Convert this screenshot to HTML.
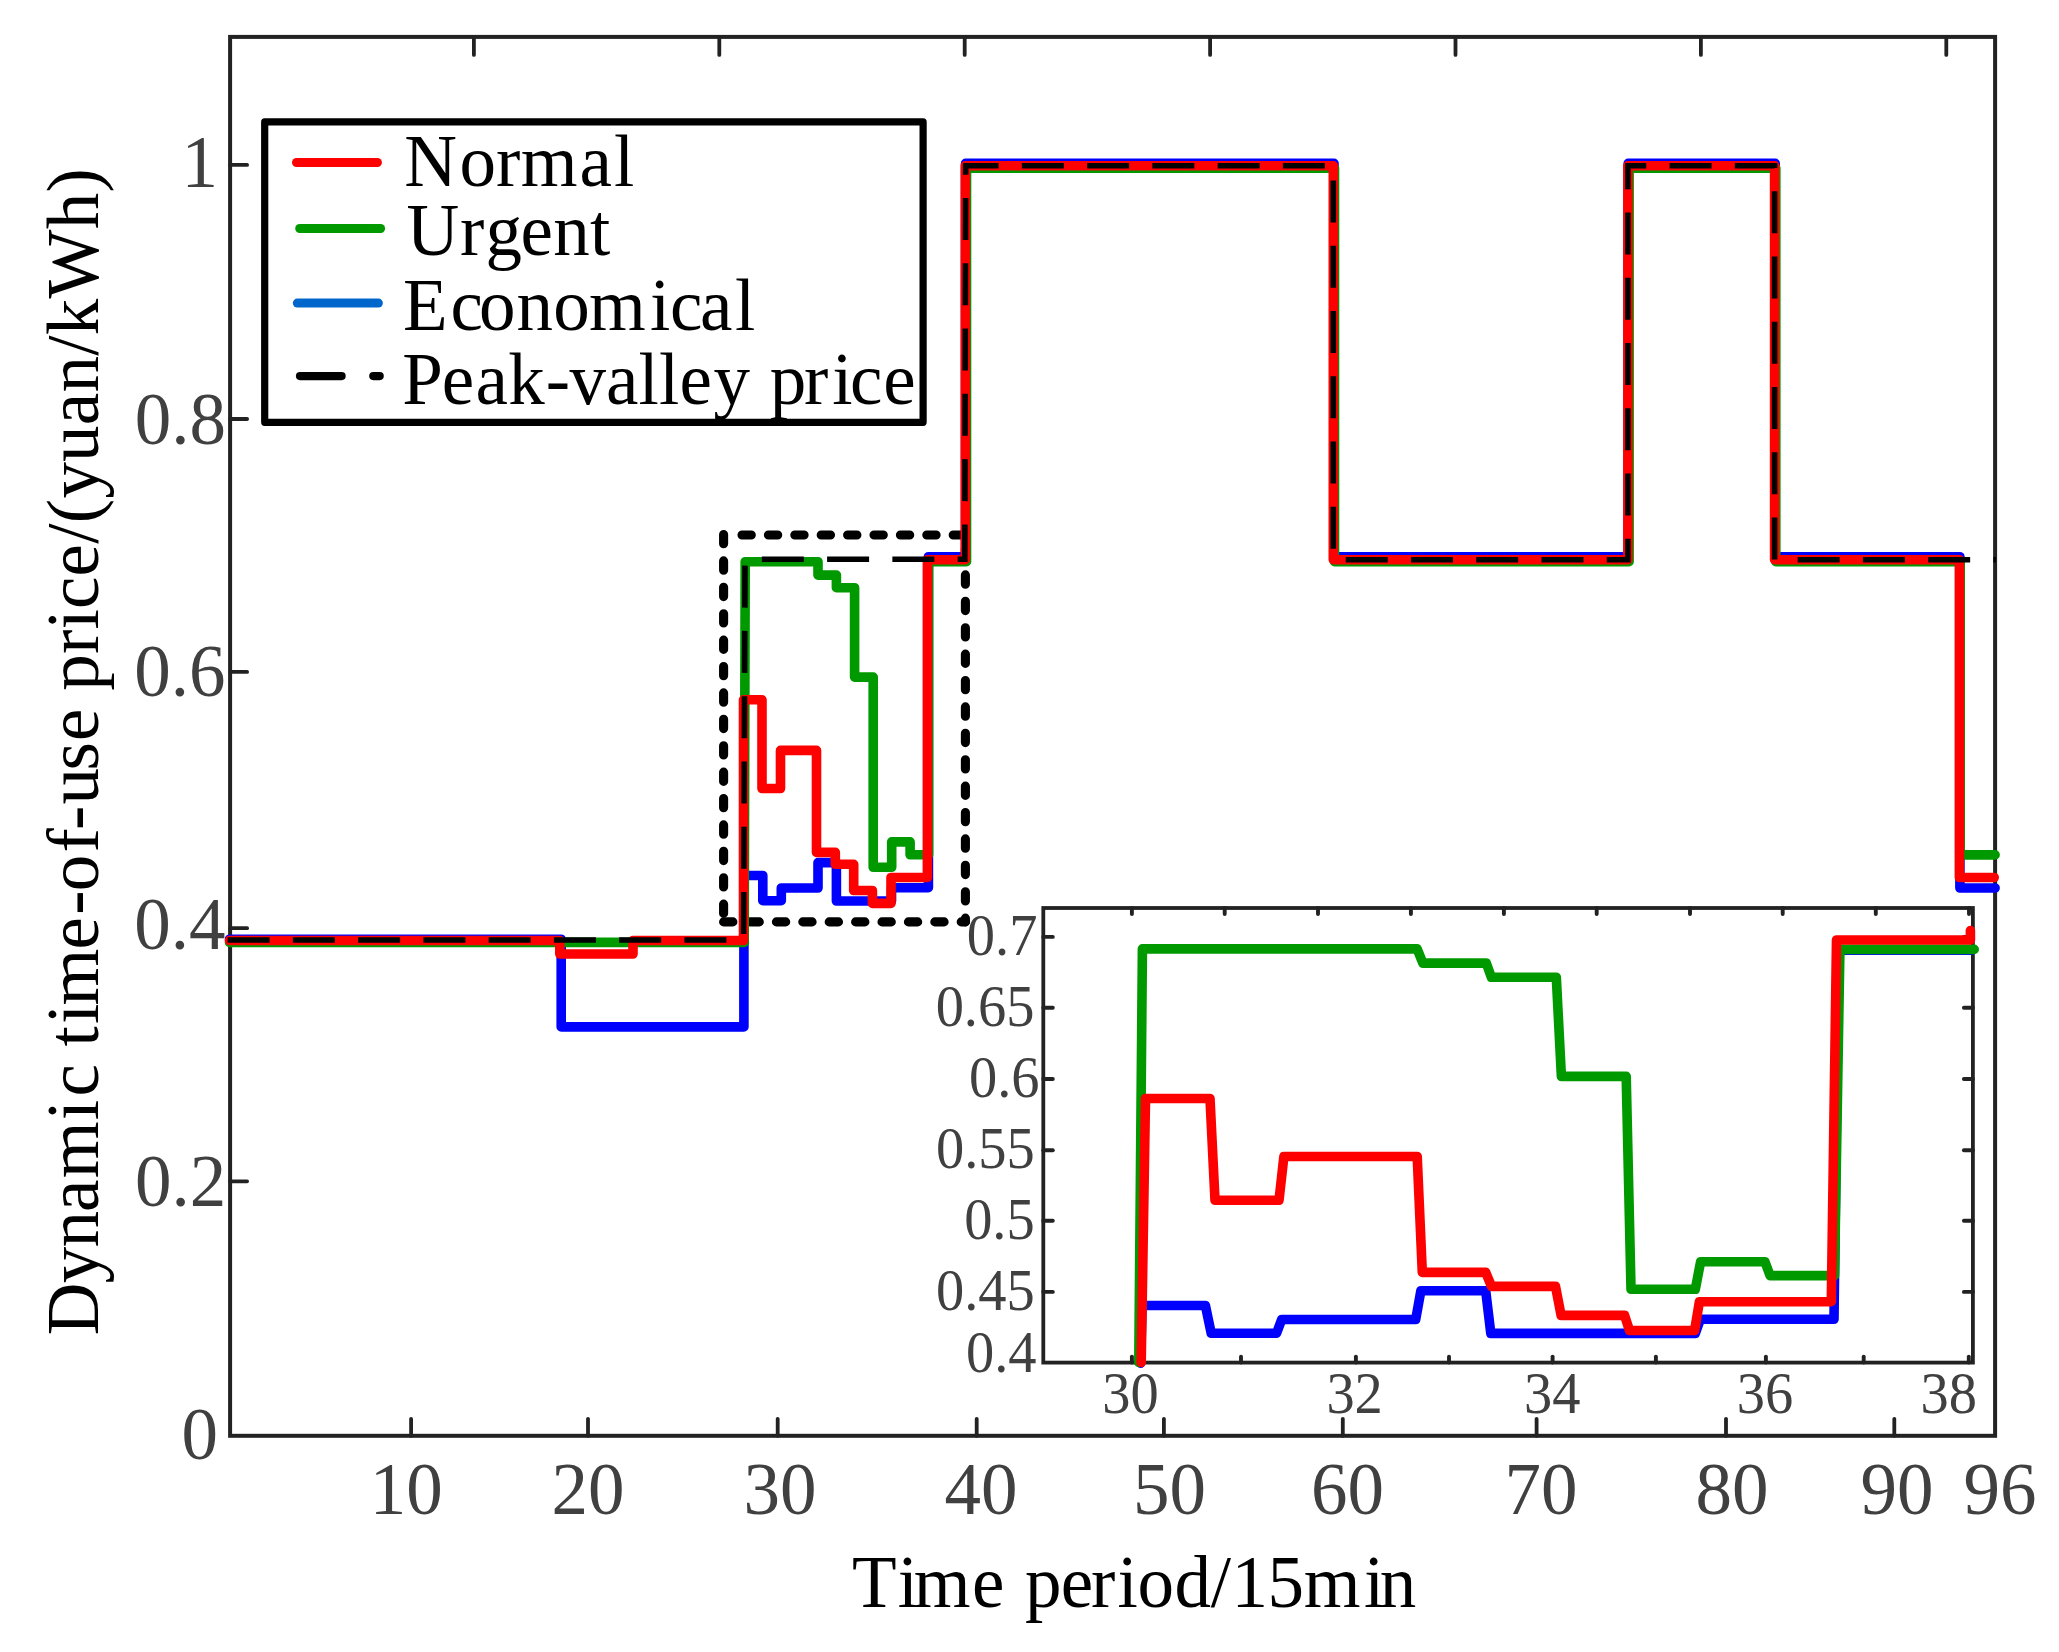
<!DOCTYPE html>
<html><head><meta charset="utf-8"><title>Dynamic time-of-use price</title>
<style>
html,body{margin:0;padding:0;background:#fff;}
body{width:2059px;height:1652px;overflow:hidden;}
svg{display:block;}
text{font-family:"Liberation Serif",serif;}
.tk{fill:#404040;font-size:73px;}
.ti{fill:#404040;font-size:58.5px;}
.lb{fill:#000;font-size:73px;}
.c{fill:none;stroke-width:9.6;stroke-linejoin:round;stroke-linecap:round;}
</style></head><body>
<svg width="2059" height="1652" viewBox="0 0 2059 1652">
<rect x="0" y="0" width="2059" height="1652" fill="#ffffff"/>
<g stroke="#222222" stroke-width="4" fill="none" stroke-linecap="round">
<rect x="230.1" y="36.9" width="1765.0" height="1398.9" stroke-linejoin="miter"/>
<line x1="411.1" y1="1435.8" x2="411.1" y2="1418.8" stroke-width="3.8"/>
<line x1="588" y1="1435.8" x2="588" y2="1418.8" stroke-width="3.8"/>
<line x1="777.7" y1="1435.8" x2="777.7" y2="1418.8" stroke-width="3.8"/>
<line x1="976.7" y1="1435.8" x2="976.7" y2="1418.8" stroke-width="3.8"/>
<line x1="1163.9" y1="1435.8" x2="1163.9" y2="1418.8" stroke-width="3.8"/>
<line x1="1342.8" y1="1435.8" x2="1342.8" y2="1418.8" stroke-width="3.8"/>
<line x1="1536.6" y1="1435.8" x2="1536.6" y2="1418.8" stroke-width="3.8"/>
<line x1="1726" y1="1435.8" x2="1726" y2="1418.8" stroke-width="3.8"/>
<line x1="1894.3" y1="1435.8" x2="1894.3" y2="1418.8" stroke-width="3.8"/>
<line x1="473.9" y1="36.9" x2="473.9" y2="54.9" stroke-width="3.8"/>
<line x1="719.3" y1="36.9" x2="719.3" y2="54.9" stroke-width="3.8"/>
<line x1="964.7" y1="36.9" x2="964.7" y2="54.9" stroke-width="3.8"/>
<line x1="1210.1" y1="36.9" x2="1210.1" y2="54.9" stroke-width="3.8"/>
<line x1="1455.5" y1="36.9" x2="1455.5" y2="54.9" stroke-width="3.8"/>
<line x1="1700.9" y1="36.9" x2="1700.9" y2="54.9" stroke-width="3.8"/>
<line x1="1946.3" y1="36.9" x2="1946.3" y2="54.9" stroke-width="3.8"/>
<line x1="230.1" y1="164.9" x2="247.1" y2="164.9" stroke-width="3.8"/>
<line x1="230.1" y1="419.0" x2="247.1" y2="419.0" stroke-width="3.8"/>
<line x1="230.1" y1="671.9" x2="247.1" y2="671.9" stroke-width="3.8"/>
<line x1="230.1" y1="928.2" x2="247.1" y2="928.2" stroke-width="3.8"/>
<line x1="230.1" y1="1181.3" x2="247.1" y2="1181.3" stroke-width="3.8"/>
</g>
<g stroke="#000" stroke-width="9.1" fill="none" stroke-linecap="round" stroke-dasharray="9.3 17.1">
<path d="M723.6,534.5 V921.9"/>
<path d="M723.6,921.9 H965.4"/>
<path d="M742,535 H965.4"/>
<path d="M965.4,548.5 V921.9"/>
</g>
<path class="c" stroke="#0000ff" d="M229.5,939.2 H561.2 V1026.9 H743.9 V875.5 H762.8 V900.7 H781.3 V888 H818 V862.6 H836.4 V901 H891.5 V887.7 H928.4 V556.7 H965.6 V163.4 H1334 V556.7 H1628.2 V163.4 H1775.2 V556.7 H1959.9 V888 H1995.1"/>
<path class="c" stroke="#009900" d="M229.5,942.4 H744.2 L745.2,561.7 H818 V575.1 H836.4 V587.7 H854.6 V677.1 H873.2 V867.3 H891.7 V841.9 H910.1 V854.8 H928.6 V561.7 H966.5 V168.1 H1334.5 V561.7 H1629.1 V168.1 H1775.8 V561.7 H1960.2 V854.9 H1995.1"/>
<path class="c" stroke="#ff0000" d="M229.5,940.5 H559.8 V954 H633 V940.5 H743.5 V699.8 H762 V788.5 H780.5 V750.4 H816.5 V852.4 H835.3 V864.3 H853.7 V890.5 H872.4 V903.4 H891 V877.5 H927.4 V559.7 H965.3 V165.7 H1333.3 V559.7 H1627.9 V165.7 H1774.6 V559.7 H1959.4 V877.5 H1994.2"/>
<path fill="none" stroke="#000" stroke-width="5.6" stroke-dasharray="42 23.26" d="M227.6,940 H743.6 L745,559.2 H964.8 L965.7,165.7 H1333.3 V559.7 H1627.9 V165.7 H1774.6 V559.7 H1996"/>
<text class="tk" x="406.3" y="1514" text-anchor="middle">10</text>
<text class="tk" x="588" y="1514" text-anchor="middle">20</text>
<text class="tk" x="780" y="1514" text-anchor="middle">30</text>
<text class="tk" x="981" y="1514" text-anchor="middle">40</text>
<text class="tk" x="1169.5" y="1514" text-anchor="middle">50</text>
<text class="tk" x="1347.5" y="1514" text-anchor="middle">60</text>
<text class="tk" x="1541" y="1514" text-anchor="middle">70</text>
<text class="tk" x="1732" y="1514" text-anchor="middle">80</text>
<text class="tk" x="1897" y="1514" text-anchor="middle">90</text>
<text class="tk" x="2000" y="1514" text-anchor="middle">96</text>
<text class="tk" x="217.9" y="186.9" text-anchor="end">1</text>
<text class="tk" x="226.1" y="444.3" text-anchor="end">0.8</text>
<text class="tk" x="225.6" y="695.5" text-anchor="end">0.6</text>
<text class="tk" x="225.6" y="948.8" text-anchor="end">0.4</text>
<text class="tk" x="226.2" y="1206.3" text-anchor="end">0.2</text>
<text class="tk" x="218" y="1458.5" text-anchor="end">0</text>
<text class="lb" x="852.1 897.8 913.8 972.0 1003.8 1025.0 1060.8 1091.1 1117.6 1137.6 1174.5 1210.7 1231.4 1267.6 1303.7 1363.9 1379.7" y="1606.9">Time period/15min</text>
<text class="lb" transform="translate(98.0,1336.3) rotate(-90)" x="1.0 53.0 88.7 124.4 158.1 216.1 239.7 269.3 289.8 312.3 330.9 386.9 421.5 445.1 483.8 506.4 531.9 565.7 595.3 627.0 645.5 682.2 706.8 727.3 759.9 792.6 813.1 837.7 874.4 911.1 943.8 980.5 1001.1 1037.8 1107.0 1143.7" y="0">Dynamic time-of-use price/(yuan/kWh)</text>
<rect x="264.7" y="121.9" width="658.4" height="300.4" fill="#fff" stroke="#000" stroke-width="7.2" stroke-linejoin="round"/>
<g fill="none" stroke-linecap="round" stroke-width="9">
<line x1="296.5" y1="162.5" x2="377.4" y2="162.5" stroke="#ff0000"/>
<line x1="299.7" y1="228.5" x2="380.6" y2="228.5" stroke="#009900"/>
<line x1="297.3" y1="303.1" x2="378.4" y2="303.1" stroke="#0066cc"/>
<line x1="300" y1="376.1" x2="341.6" y2="376.1" stroke="#000" stroke-width="8.2"/>
<line x1="373.3" y1="376.1" x2="379.7" y2="376.1" stroke="#000" stroke-width="8.2"/>
</g>
<text class="lb" x="404.2 459.4 496.1 520.8 579.4 614.0" y="186">Normal</text>
<text class="lb" x="406.5 459.9 485.4 520.6 553.3 590.0" y="255">Urgent</text>
<text class="lb" x="403.0 450.5 479.0 516.6 553.3 588.9 650.0 670.0 700.1 735.1" y="330">Economical</text>
<text class="lb" x="402.3 441.8 475.6 508.2 545.7 569.4 606.0 638.6 659.1 679.5 713.4 748.8 769.8 803.9 832.2 850.1 883.2" y="404.3">Peak-valley price</text>
<g stroke="#222222" stroke-width="3.8" fill="none" stroke-linecap="round">
<rect x="1043.3" y="908.0" width="929.6" height="454.6" fill="#fff"/>
<line x1="1131.9" y1="908.0" x2="1131.9" y2="914.0" stroke-width="3.9"/>
<line x1="1224.7" y1="908.0" x2="1224.7" y2="914.0" stroke-width="3.9"/>
<line x1="1318" y1="908.0" x2="1318" y2="914.0" stroke-width="3.9"/>
<line x1="1410.9" y1="908.0" x2="1410.9" y2="914.0" stroke-width="3.9"/>
<line x1="1503.9" y1="908.0" x2="1503.9" y2="914.0" stroke-width="3.9"/>
<line x1="1596.7" y1="908.0" x2="1596.7" y2="914.0" stroke-width="3.9"/>
<line x1="1690" y1="908.0" x2="1690" y2="914.0" stroke-width="3.9"/>
<line x1="1782.7" y1="908.0" x2="1782.7" y2="914.0" stroke-width="3.9"/>
<line x1="1875.8" y1="908.0" x2="1875.8" y2="914.0" stroke-width="3.9"/>
<line x1="1969" y1="908.0" x2="1969" y2="914.0" stroke-width="3.9"/>
<line x1="1131.9" y1="1362.6" x2="1131.9" y2="1356.6" stroke-width="3.9"/>
<line x1="1241" y1="1362.6" x2="1241" y2="1356.6" stroke-width="3.9"/>
<line x1="1355.9" y1="1362.6" x2="1355.9" y2="1356.6" stroke-width="3.9"/>
<line x1="1449" y1="1362.6" x2="1449" y2="1356.6" stroke-width="3.9"/>
<line x1="1552.6" y1="1362.6" x2="1552.6" y2="1356.6" stroke-width="3.9"/>
<line x1="1655.9" y1="1362.6" x2="1655.9" y2="1356.6" stroke-width="3.9"/>
<line x1="1765.9" y1="1362.6" x2="1765.9" y2="1356.6" stroke-width="3.9"/>
<line x1="1863.7" y1="1362.6" x2="1863.7" y2="1356.6" stroke-width="3.9"/>
<line x1="1968.8" y1="1362.6" x2="1968.8" y2="1356.6" stroke-width="3.9"/>
<line x1="1043.3" y1="936.9" x2="1052.8" y2="936.9" stroke-width="3.9"/>
<line x1="1972.9" y1="936.9" x2="1963.9" y2="936.9" stroke-width="3.9"/>
<line x1="1043.3" y1="1007.7" x2="1052.8" y2="1007.7" stroke-width="3.9"/>
<line x1="1972.9" y1="1007.7" x2="1963.9" y2="1007.7" stroke-width="3.9"/>
<line x1="1043.3" y1="1079" x2="1052.8" y2="1079" stroke-width="3.9"/>
<line x1="1972.9" y1="1079" x2="1963.9" y2="1079" stroke-width="3.9"/>
<line x1="1043.3" y1="1150.2" x2="1052.8" y2="1150.2" stroke-width="3.9"/>
<line x1="1972.9" y1="1150.2" x2="1963.9" y2="1150.2" stroke-width="3.9"/>
<line x1="1043.3" y1="1220.8" x2="1052.8" y2="1220.8" stroke-width="3.9"/>
<line x1="1972.9" y1="1220.8" x2="1963.9" y2="1220.8" stroke-width="3.9"/>
<line x1="1043.3" y1="1291.9" x2="1052.8" y2="1291.9" stroke-width="3.9"/>
<line x1="1972.9" y1="1291.9" x2="1963.9" y2="1291.9" stroke-width="3.9"/>
</g>
<text class="ti" transform="translate(1037.4,955.2) scale(0.965,1)" text-anchor="end">0.7</text>
<text class="ti" transform="translate(1034.4,1025.8) scale(0.965,1)" text-anchor="end">0.65</text>
<text class="ti" transform="translate(1039.5,1097.2) scale(0.965,1)" text-anchor="end">0.6</text>
<text class="ti" transform="translate(1034.7,1168.4) scale(0.965,1)" text-anchor="end">0.55</text>
<text class="ti" transform="translate(1034.7,1239.0) scale(0.965,1)" text-anchor="end">0.5</text>
<text class="ti" transform="translate(1034.7,1310.1) scale(0.965,1)" text-anchor="end">0.45</text>
<text class="ti" transform="translate(1036.5,1372.4) scale(0.965,1)" text-anchor="end">0.4</text>
<text class="ti" transform="translate(1130.5,1412.9) scale(0.965,1)" text-anchor="middle">30</text>
<text class="ti" transform="translate(1354.6,1412.9) scale(0.965,1)" text-anchor="middle">32</text>
<text class="ti" transform="translate(1552.3,1412.9) scale(0.965,1)" text-anchor="middle">34</text>
<text class="ti" transform="translate(1765.0,1412.9) scale(0.965,1)" text-anchor="middle">36</text>
<text class="ti" transform="translate(1948.8,1412.9) scale(0.965,1)" text-anchor="middle">38</text>
<path class="c" stroke="#0000ff" d="M1140.6,1363.2 L1142,1305.5 L1205.4,1305.5 L1211.2,1333.2 L1276.6,1333.2 L1281.7,1319.5 L1415.7,1319.5 L1420.9,1290.7 L1485.7,1290.7 L1490.8,1333.4 L1695.3,1333.4 L1700.3,1319.3 L1834,1319.3 L1838.5,950.3 L1971.5,950.3"/>
<path class="c" stroke="#009900" d="M1138.8,1362.5 L1142.4,948.9 L1417.1,948.9 L1422.9,963.1 L1486.3,963.1 L1491.4,977.3 L1556.3,977.3 L1561.4,1076.4 L1626.2,1076.4 L1631,1289.3 L1695.3,1289.3 L1700.6,1261.8 L1765,1261.8 L1770.1,1275.6 L1834.5,1275.6 L1839.9,949.4 L1974.2,949.4"/>
<path class="c" stroke="#ff0000" d="M1141.2,1362.5 L1145.5,1098.5 L1210,1098.5 L1215,1200.3 L1279,1200.3 L1283.9,1156.5 L1417.2,1156.5 L1422.3,1272.4 L1485.7,1272.4 L1491.5,1286.4 L1555.5,1286.4 L1561.1,1315.4 L1624.6,1315.4 L1629.5,1330.5 L1694.6,1330.5 L1699.4,1301.7 L1831.3,1301.7 L1836.5,940 L1970.4,940 L1970.4,930.6"/>
</svg></body></html>
